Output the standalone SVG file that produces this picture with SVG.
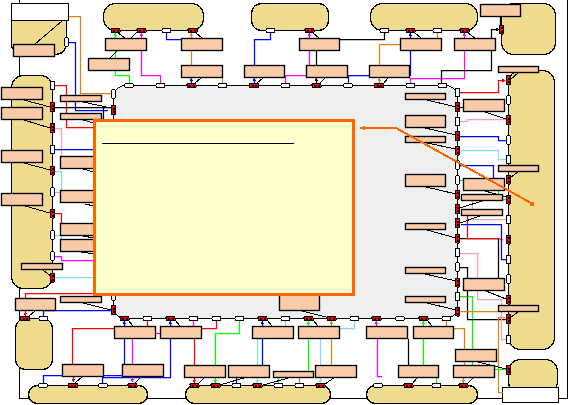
<svg xmlns="http://www.w3.org/2000/svg" width="569" height="405" viewBox="0 0 569 405" shape-rendering="crispEdges">
<style>
.tan{fill:#EFDB8E;stroke:#000;stroke-width:1.3}
.box{fill:#F9CBA9;stroke:#000;stroke-width:1.35;shape-rendering:geometricPrecision}
.wh{fill:#fff;stroke:#000;stroke-width:1}
.cn{fill:none;stroke-width:1.25}
.cn>path{shape-rendering:geometricPrecision}
.k{stroke:#000}.r{stroke:#f00}.b{stroke:#00f}.g{stroke:#0f0}.m{stroke:#f0f}.c{stroke:#80ddee}.p{stroke:#f5a0b0}.o{stroke:#e08010}
.t.k{marker-end:url(#mk)}.t.r{marker-end:url(#mr)}.t.b{marker-end:url(#mb)}.t.g{marker-end:url(#mg)}.t.m{marker-end:url(#mm)}.t.c{marker-end:url(#mc)}.t.p{marker-end:url(#mp)}.t.o{marker-end:url(#mo)}
.thin path{stroke-width:1}
</style>
<defs>
<marker id="mk" markerUnits="userSpaceOnUse" markerWidth="5" markerHeight="5" refX="3" refY="2.5" orient="auto"><path d="M0 .5 3 2.5 0 4.5Z" fill="#000"/></marker>
<marker id="mr" markerUnits="userSpaceOnUse" markerWidth="5" markerHeight="5" refX="3" refY="2.5" orient="auto"><path d="M0 .5 3 2.5 0 4.5Z" fill="#f00"/></marker>
<marker id="mb" markerUnits="userSpaceOnUse" markerWidth="5" markerHeight="5" refX="3" refY="2.5" orient="auto"><path d="M0 .5 3 2.5 0 4.5Z" fill="#00f"/></marker>
<marker id="mg" markerUnits="userSpaceOnUse" markerWidth="5" markerHeight="5" refX="3" refY="2.5" orient="auto"><path d="M0 .5 3 2.5 0 4.5Z" fill="#0f0"/></marker>
<marker id="mm" markerUnits="userSpaceOnUse" markerWidth="5" markerHeight="5" refX="3" refY="2.5" orient="auto"><path d="M0 .5 3 2.5 0 4.5Z" fill="#f0f"/></marker>
<marker id="mc" markerUnits="userSpaceOnUse" markerWidth="5" markerHeight="5" refX="3" refY="2.5" orient="auto"><path d="M0 .5 3 2.5 0 4.5Z" fill="#80ddee"/></marker>
<marker id="mp" markerUnits="userSpaceOnUse" markerWidth="5" markerHeight="5" refX="3" refY="2.5" orient="auto"><path d="M0 .5 3 2.5 0 4.5Z" fill="#f5a0b0"/></marker>
<marker id="mo" markerUnits="userSpaceOnUse" markerWidth="5" markerHeight="5" refX="3" refY="2.5" orient="auto"><path d="M0 .5 3 2.5 0 4.5Z" fill="#e08010"/></marker>
<marker id="ma" markerUnits="userSpaceOnUse" markerWidth="7" markerHeight="7" refX="0" refY="3.5" orient="auto"><path d="M5 1 0 3.5 5 6Z" fill="#f60"/></marker>
<g id="R"><rect x="-4.5" y="-2" width="9" height="4" rx="1" fill="#f00" stroke="#000"/><path d="M-2.5-1h2v2h-2zM1-1h2v2h-2z" fill="#000"/></g>
<g id="RV"><rect x="-2" y="-4.5" width="4" height="9" rx="1" fill="#f00" stroke="#000"/><path d="M-1-2.5h2v2h-2zM-1 1h2v2h-2z" fill="#000"/></g>
<rect id="W" x="-4.5" y="-2" width="9" height="4" rx="2" class="wh"/>
<rect id="WV" x="-2" y="-4.5" width="4" height="9" rx="2" class="wh"/>
</defs>

<rect id="background" width="569" height="405" fill="#fff"/>
<path id="frame" d="M19.5 0V398.5H30M147 398.5H186M330 398.5H367M477 398.5H503M558 398.5H567.5V0" fill="none" stroke="#000"/>

<g id="core"><rect x="113.5" y="85.5" width="344" height="233" rx="12" fill="#EFEFEF" stroke="#000"/></g>
<g id="shape-a"><path class="tan" d="M11.5 20.5H66.5V42Q66.5 54.5 54 54.5H20Q11.5 50 11.5 45Z"/><rect class="wh" x="11.5" y="3.5" width="57" height="17"/></g>
<g id="shape-b"><rect class="tan" x="11.5" y="75.5" width="41" height="213" rx="12"/></g>
<g id="shape-c"><rect class="tan" x="103.5" y="3.5" width="100" height="27" rx="12"/></g>
<g id="shape-d"><rect class="tan" x="251.5" y="3.5" width="77" height="27" rx="10"/></g>
<g id="shape-e"><rect class="tan" x="370.5" y="3.5" width="107" height="27" rx="12"/></g>
<g id="shape-f"><rect class="tan" x="501.5" y="3.5" width="54" height="51" rx="12"/></g>
<g id="shape-g"><rect class="tan" x="508.5" y="70.5" width="46" height="279" rx="12"/></g>
<g id="shape-h"><rect class="tan" x="508.5" y="359.5" width="49" height="34" rx="12"/></g>
<g id="shape-i"><rect class="tan" x="15.5" y="318.5" width="37" height="51" rx="10"/></g>
<g id="shape-j"><rect class="tan" x="28.5" y="385.5" width="119" height="18" rx="9"/></g>
<g id="shape-k"><rect class="tan" x="185.5" y="385.5" width="145" height="18" rx="9"/></g>
<g id="shape-l"><rect class="tan" x="366.5" y="385.5" width="111" height="18" rx="9"/></g>
<rect id="white-box" class="wh" x="502.5" y="387.5" width="56" height="15"/>

<g id="connectors" class="cn">
<path class="o" d="M69 16.5H80.5V93.5H111"/>
<path class="b" d="M68 42.5H75.5V110.5H108"/>
<path class="r" d="M54 85.5H66.5V127.5H94"/>
<path class="k" d="M55 107.5H111M103.5 108V119"/>
<path class="p" d="M54 128.5H61.5V156"/>
<path class="b" d="M54 149.5H94"/>
<path class="c" d="M54 171.5H61.5V190"/>
<path class="p" d="M54 192.5H61"/>
<path class="r" d="M54 213.5H61.5V224"/>
<path class="c" d="M54 235.5H61M61.5 235.5V240"/>
<path class="m" d="M54 256.5H61.5V260.5H94"/>
<path class="c" d="M54 277.5H94"/>
<path class="r" d="M25.5 298V293.5H94"/>
<path class="b" d="M43.5 316V310.5H111"/>
<path class="t r" d="M25.5 310.5V316"/>
<path class="r" d="M114 328.5H72.5V365"/>
<path class="t b" d="M124.5 326V321"/>
<path class="b" d="M124.5 339V365"/>
<path class="m" d="M132.5 339V365"/>
<path class="t b" d="M170.5 326V321"/>
<path class="b" d="M170.5 339V377.5H102.5V383"/>
<path class="b" d="M43.5 383V375.5H122"/>
<path class="t r" d="M73.5 377V382"/>
<path class="t m" d="M132.5 377V382"/>
<path class="m" d="M155.5 333.5H160.5"/>
<path class="r" d="M147.5 321V326"/>
<path class="r" d="M216.5 321V328.5H202"/>
<path class="r" d="M194.5 339V366"/>
<path class="m" d="M193.5 321V326"/>
<path class="g" d="M239.5 321V333.5H215.5V366"/>
<path class="c" d="M257.5 339V366"/>
<path class="t b" d="M262.5 326V321"/>
<path class="b" d="M262.5 339V366"/>
<path class="c" d="M285.5 321V326"/>
<path class="t g" d="M308.5 326V321"/>
<path class="g" d="M308.5 339V371"/>
<path class="c" d="M320.5 339V366"/>
<path class="t o" d="M331.5 326V321"/>
<path class="o" d="M331.5 339V366"/>
<path class="c" d="M354.5 321V328.5H340"/>
<path class="t m" d="M376.5 326V321"/>
<path class="m" d="M377.5 339V376.5H382"/>
<path class="t r" d="M194.5 378V383"/>
<path class="t g" d="M215.5 378V383"/>
<path class="b" d="M236.5 378V383"/>
<path class="t c" d="M257.5 378V383"/>
<path class="g" d="M278.5 378V383"/>
<path class="o" d="M299.5 378V383"/>
<path class="t c" d="M320.5 378V383"/>
<path class="k" d="M408.5 339V366"/>
<path class="t g" d="M423.5 326V321"/>
<path class="g" d="M423.5 339V366"/>
<path class="o" d="M446.5 321V326M454 328.5H464.5V366"/>
<path class="g" d="M436.5 378V383"/>
<path class="t o" d="M463.5 378V383"/>
<path class="g" d="M460 296.5H472.5V350M472.5 362V366"/>
<path class="k" d="M460 267.5H467.5V319.5H506"/>
<path class="o" d="M460 311.5H499"/>
<path class="o" d="M505 317.5H498.5V392.5H503"/>
<path class="p" d="M460 253.5H477.5V299.5H501.5V339.5H506"/>
<path class="g" d="M495 369.5H506"/>
<path class="b" d="M460 136.5H498.5V140.5H506"/>
<path class="c" d="M461 150.5H498.5V159.5H506"/>
<path class="b" d="M460 165.5H493.5V179"/>
<path class="g" d="M460 180.5H464"/>
<path class="g" d="M498.5 191V199.5H506"/>
<path class="p" d="M472.5 201V210"/>
<path class="p" d="M467 219.5H506"/>
<path class="k" d="M460 238.5H498.5V279"/>
<path class="r" d="M467.5 216V238.5H498.5L503 240"/>
<path class="b" d="M461 224.5H501.5V259.5H506"/>
<path class="t r" d="M460 92.5H498.5V80.5H505"/>
<path class="p" d="M460 121.5H467.5V119.5H506"/>
<path class="k" d="M460 107.5H464"/>
<path class="t g" d="M115.5 38V33"/>
<path class="g" d="M115.5 51V75.5H129.5V83"/>
<path class="t m" d="M141.5 38V33"/>
<path class="m" d="M141.5 51V75.5H160.5V83"/>
<path class="b" d="M166.5 33V39.5H181"/>
<path class="t o" d="M191.5 38V33"/>
<path class="o" d="M191.5 51V65"/>
<path class="t b" d="M191.5 83V78"/>
<path class="o" d="M222.5 78V83"/>
<path class="b" d="M270.5 33V39.5H254.5V66"/>
<path class="t b" d="M254.5 83V78"/>
<path class="t m" d="M309.5 38V33"/>
<path class="m" d="M309.5 51V66M285 75.5H306M285.5 75.5V83"/>
<path class="k" d="M316.5 51V66"/>
<path class="t k" d="M316.5 83V78"/>
<path class="k" d="M384.5 33V39.5H340"/>
<path class="o" d="M379.5 66V44.5H400"/>
<path class="b" d="M348 75.5H369M348.5 75.5V83"/>
<path class="t o" d="M379.5 83V78"/>
<path class="t b" d="M410.5 38V33"/>
<path class="b" d="M410.5 51V76"/>
<path class="m" d="M410.5 83V78.5H464.5V51"/>
<path class="o" d="M437.5 33V38"/>
<path class="t m" d="M464.5 38V33"/>
<path class="k" d="M491.5 51V70.5H441.5V83"/>
<path class="t k" d="M491.5 38V29.5H499"/>
<path class="k" d="M500.5 17V26"/>
<g class="k thin">
<path d="M35 44L62 21M110 58L137 32M118 33L125 38M196 33L202 38M313 33L319 38M415 33L421 38M468 33L475 38"/>
<path d="M201 78L195 83M263 78L257 83M325 78L320 83M388 78L383 84"/>
<path d="M24 100L50 107M24 120L50 128M24 163L50 170M25 206L50 213M43 270L52 277"/>
<path d="M83 102L111 108M83 120L94 123M83 169L94 172M85 204L94 206M83 236L94 238M81 252L94 254M83 303L111 310"/>
<path d="M35 311L28 317M82 377L75 383M141 377L135 383M128 320L133 326M175 320L180 326M267 320L272 326M313 320L318 326M302 311L330 318M427 320L432 326"/>
<path d="M205 377L198 384M247 377L220 385M292 377L263 385M335 377L325 384M418 377L412 384M473 378L467 384"/>
<path d="M427 100L456 107M425 128L456 135M427 143L456 149M426 187L456 194M427 230L456 238M425 274L456 281M427 303L456 310"/>
<path d="M485 112L506 119M485 191L506 197M485 200L460 208M480 216L460 223M486 291L506 299M478 362L506 369"/>
<path d="M518 73L510 80M518 172L510 178M518 312L510 318"/>
</g>
</g>

<g id="boxes">
<g id="n1"><rect class="box" x="13.5" y="44.5" width="41" height="12"/></g>
<g id="n2"><rect class="box" x="105.5" y="38.5" width="41" height="12"/></g>
<g id="n3"><rect class="box" x="88.5" y="58.5" width="41" height="12"/></g>
<g id="n4"><rect class="box" x="181.5" y="38.5" width="41" height="12"/></g>
<g id="n5"><rect class="box" x="181.5" y="65.5" width="41" height="12"/></g>
<g id="n6"><rect class="box" x="244.5" y="65.5" width="40" height="12"/></g>
<g id="n7"><rect class="box" x="299.5" y="38.5" width="40" height="12"/></g>
<g id="n8"><rect class="box" x="306.5" y="65.5" width="41" height="12"/></g>
<g id="n9"><rect class="box" x="369.5" y="65.5" width="40" height="12"/></g>
<g id="n10"><rect class="box" x="400.5" y="38.5" width="41" height="12"/></g>
<g id="n11"><rect class="box" x="454.5" y="38.5" width="41" height="12"/></g>
<g id="n12"><rect class="box" x="480.5" y="4.5" width="40" height="12"/></g>
<g id="n13"><rect class="box" x="498.5" y="66.5" width="40" height="6"/></g>
<g id="n14"><rect class="box" x="463.5" y="99.5" width="41" height="12"/></g>
<g id="n15"><rect class="box" x="405.5" y="93.5" width="40" height="6"/></g>
<g id="n16"><rect class="box" x="405.5" y="115.5" width="40" height="12"/></g>
<g id="n17"><rect class="box" x="405.5" y="136.5" width="40" height="6"/></g>
<g id="n18"><rect class="box" x="405.5" y="174.5" width="40" height="12"/></g>
<g id="n19"><rect class="box" x="463.5" y="178.5" width="41" height="12"/></g>
<g id="n20"><rect class="box" x="498.5" y="165.5" width="40" height="6"/></g>
<g id="n21"><rect class="box" x="461.5" y="194.5" width="41" height="6"/></g>
<g id="n22"><rect class="box" x="461.5" y="209.5" width="41" height="6"/></g>
<g id="n23"><rect class="box" x="405.5" y="223.5" width="40" height="6"/></g>
<g id="n24"><rect class="box" x="405.5" y="267.5" width="40" height="6"/></g>
<g id="n25"><rect class="box" x="463.5" y="278.5" width="41" height="12"/></g>
<g id="n26"><rect class="box" x="405.5" y="296.5" width="40" height="6"/></g>
<g id="n27"><rect class="box" x="498.5" y="305.5" width="40" height="6"/></g>
<g id="n28"><rect class="box" x="455.5" y="349.5" width="41" height="12"/></g>
<g id="n29"><rect class="box" x="453.5" y="365.5" width="41" height="12"/></g>
<g id="n30"><rect class="box" x="398.5" y="365.5" width="40" height="12"/></g>
<g id="n31"><rect class="box" x="413.5" y="326.5" width="40" height="12"/></g>
<g id="n32"><rect class="box" x="366.5" y="326.5" width="41" height="12"/></g>
<g id="n33"><rect class="box" x="252.5" y="326.5" width="41" height="12"/></g>
<g id="n34"><rect class="box" x="298.5" y="326.5" width="41" height="12"/></g>
<g id="n35"><rect class="box" x="315.5" y="365.5" width="41" height="12"/></g>
<g id="n36"><rect class="box" x="273.5" y="371.5" width="40" height="6"/></g>
<g id="n37"><rect class="box" x="228.5" y="365.5" width="41" height="12"/></g>
<g id="n38"><rect class="box" x="184.5" y="365.5" width="41" height="12"/></g>
<g id="n39"><rect class="box" x="122.5" y="364.5" width="41" height="12"/></g>
<g id="n40"><rect class="box" x="62.5" y="364.5" width="41" height="12"/></g>
<g id="n41"><rect class="box" x="114.5" y="326.5" width="41" height="12"/></g>
<g id="n42"><rect class="box" x="160.5" y="326.5" width="41" height="12"/></g>
<g id="n43"><rect class="box" x="15.5" y="298.5" width="40" height="12"/></g>
<g id="n44"><rect class="box" x="60.5" y="296.5" width="41" height="6"/></g>
<g id="n45"><rect class="box" x="279.5" y="280.5" width="40" height="30"/></g>
<g id="n46"><rect class="box" x="1.5" y="87.5" width="41" height="12"/></g>
<g id="n47"><rect class="box" x="1.5" y="107.5" width="41" height="12"/></g>
<g id="n48"><rect class="box" x="60.5" y="95.5" width="41" height="6"/></g>
<g id="n49"><rect class="box" x="60.5" y="113.5" width="41" height="6"/></g>
<g id="n50"><rect class="box" x="1.5" y="150.5" width="41" height="12"/></g>
<g id="n51"><rect class="box" x="1.5" y="193.5" width="41" height="12"/></g>
<g id="n52"><rect class="box" x="60.5" y="156.5" width="41" height="12"/></g>
<g id="n53"><rect class="box" x="60.5" y="190.5" width="41" height="12"/></g>
<g id="n54"><rect class="box" x="60.5" y="223.5" width="41" height="12"/></g>
<g id="n55"><rect class="box" x="60.5" y="239.5" width="41" height="12"/></g>
<g id="n56"><rect class="box" x="21.5" y="263.5" width="41" height="6"/></g>
</g>

<g id="ports">
<use href="#WV" x="66.5" y="42"/>
<use href="#R" x="115.5" y="30.5"/><use href="#R" x="141.5" y="30.5"/><use href="#W" x="166.5" y="30.5"/><use href="#R" x="192.5" y="30.5"/>
<use href="#W" x="270.5" y="30.5"/><use href="#R" x="309.5" y="30.5"/>
<use href="#W" x="384.5" y="30.5"/><use href="#R" x="410.5" y="30.5"/><use href="#W" x="437.5" y="30.5"/><use href="#R" x="464.5" y="30.5"/>
<use href="#W" x="129" y="85.5"/><use href="#W" x="160.5" y="85.5"/><use href="#R" x="191.5" y="85.5"/><use href="#W" x="222.5" y="85.5"/><use href="#R" x="254" y="85.5"/><use href="#W" x="285.5" y="85.5"/><use href="#R" x="316.5" y="85.5"/><use href="#W" x="348" y="85.5"/><use href="#R" x="379" y="85.5"/><use href="#W" x="410.5" y="85.5"/><use href="#W" x="442.5" y="85.5"/>
<use href="#WV" x="113.5" y="94"/><use href="#RV" x="113.5" y="110"/><use href="#WV" x="113.5" y="296"/><use href="#RV" x="113.5" y="310"/>
<use href="#WV" x="457.5" y="92.5"/><use href="#RV" x="457.5" y="107"/><use href="#WV" x="457.5" y="121.5"/><use href="#RV" x="457.5" y="136"/><use href="#RV" x="457.5" y="150.5"/><use href="#WV" x="457.5" y="165"/><use href="#WV" x="457.5" y="180"/><use href="#RV" x="457.5" y="194.5"/><use href="#RV" x="457.5" y="209"/><use href="#RV" x="457.5" y="223"/><use href="#RV" x="457.5" y="238.5"/><use href="#WV" x="457.5" y="252.5"/><use href="#WV" x="457.5" y="267"/><use href="#RV" x="457.5" y="282.5"/><use href="#WV" x="457.5" y="296.5"/><use href="#RV" x="457.5" y="311.5"/>
<use href="#R" x="124.5" y="318.5"/><use href="#W" x="147.5" y="318.5"/><use href="#R" x="170.5" y="318.5"/><use href="#W" x="193.5" y="318.5"/><use href="#W" x="216.5" y="318.5"/><use href="#W" x="239.5" y="318.5"/><use href="#R" x="262.5" y="318.5"/><use href="#W" x="285.5" y="318.5"/><use href="#R" x="308.5" y="318.5"/><use href="#R" x="331.5" y="318.5"/><use href="#W" x="354.5" y="318.5"/><use href="#R" x="376.5" y="318.5"/><use href="#W" x="400" y="318.5"/><use href="#R" x="423.5" y="318.5"/><use href="#W" x="446.5" y="318.5"/>
<use href="#WV" x="52.5" y="85.5"/><use href="#RV" x="52.5" y="107"/><use href="#RV" x="52.5" y="128"/><use href="#WV" x="52.5" y="149.5"/><use href="#RV" x="52.5" y="170.5"/><use href="#WV" x="52.5" y="192"/><use href="#RV" x="52.5" y="213.5"/><use href="#WV" x="52.5" y="235"/><use href="#WV" x="52.5" y="256"/><use href="#RV" x="52.5" y="277.5"/>
<use href="#R" x="25" y="318.5"/><use href="#W" x="43.5" y="318.5"/>
<use href="#RV" x="501.5" y="29.5"/>
<use href="#RV" x="508.5" y="80"/><use href="#WV" x="508.5" y="100"/><use href="#RV" x="508.5" y="120"/><use href="#WV" x="508.5" y="140"/><use href="#WV" x="508.5" y="159.5"/><use href="#RV" x="508.5" y="179.5"/><use href="#RV" x="508.5" y="199.5"/><use href="#WV" x="508.5" y="219.5"/><use href="#RV" x="508.5" y="239.5"/><use href="#WV" x="508.5" y="259.5"/><use href="#WV" x="508.5" y="279"/><use href="#RV" x="508.5" y="299.5"/><use href="#RV" x="508.5" y="319"/><use href="#WV" x="508.5" y="339.5"/><use href="#RV" x="508.5" y="370"/>
<use href="#W" x="43" y="385.5"/><use href="#R" x="73" y="385.5"/><use href="#W" x="103" y="385.5"/><use href="#R" x="132.5" y="385.5"/>
<use href="#R" x="194.5" y="385.5"/><use href="#R" x="215.5" y="385.5"/><use href="#W" x="236.5" y="385.5"/><use href="#R" x="257.5" y="385.5"/><use href="#W" x="278.5" y="385.5"/><use href="#W" x="299.5" y="385.5"/><use href="#R" x="320.5" y="385.5"/>
<use href="#W" x="378" y="385.5"/><use href="#R" x="408.5" y="385.5"/><use href="#W" x="436.5" y="385.5"/><use href="#R" x="463.5" y="385.5"/>
</g>

<g id="note">
<rect x="94.5" y="120.5" width="259" height="174" fill="#FFFFCC" stroke="#FF6600" stroke-width="3"/>
<path d="M102 143.5H294" stroke="#000" fill="none"/>
</g>
<g id="callout">
<path d="M360 128H396L531 203" fill="none" stroke="#FF6600" stroke-width="2" marker-start="url(#ma)"/>
<rect x="530" y="202" width="4" height="4" fill="#FF6600"/>
</g>
</svg>
